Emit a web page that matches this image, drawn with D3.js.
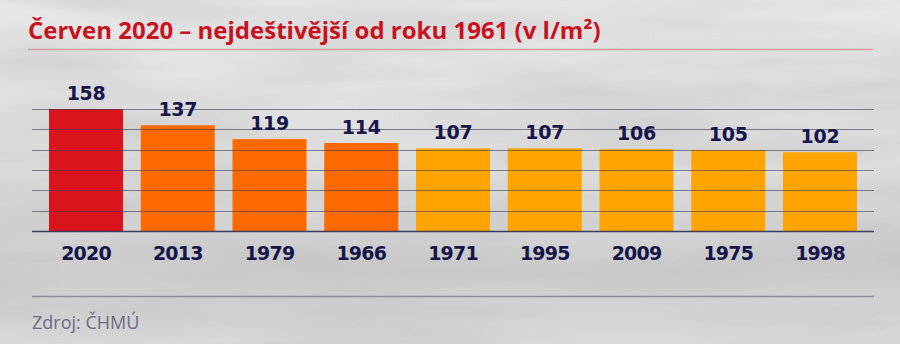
<!DOCTYPE html>
<html lang="cs">
<head>
<meta charset="UTF-8">
<title>Červen 2020</title>
<script src="https://d3js.org/d3.v7.min.js"></script>
<style>
  html, body { margin: 0; padding: 0; background: #dcdcdc; }
  svg { display: block; }
</style>
</head>
<body>
<div id="chart"></div>
<script>
// data
const years = ["2020", "2013", "1979", "1966", "1971", "1995", "2009", "1975", "1998"];
const values = [158, 137, 119, 114, 107, 107, 106, 105, 102];
const title = "Červen 2020 – nejdeštivější od roku 1961 (v l/m²)";
const source = "Zdroj: ČHMÚ";

const W = 900, H = 344;
const baseY = 231, topY = 109;

const svg = d3.select("#chart").append("svg")
    .attr("width", W)
    .attr("height", H);

// background - grey water-like texture
const defs = svg.append("defs");
const filt = defs.append("filter").attr("id", "water")
    .attr("x", 0).attr("y", 0).attr("width", "100%").attr("height", "100%");
filt.append("feTurbulence")
    .attr("type", "fractalNoise")
    .attr("baseFrequency", "0.004 0.025")
    .attr("numOctaves", 3)
    .attr("seed", 7);
filt.append("feColorMatrix")
    .attr("type", "matrix")
    .attr("values", "0 0 0 0 0.5  0 0 0 0 0.5  0 0 0 0 0.52  0 0 0 1.4 -0.45");
const grad = defs.append("linearGradient").attr("id", "bg")
    .attr("x1", 0).attr("y1", 0).attr("x2", 0).attr("y2", 1);
grad.append("stop").attr("offset", "0").attr("stop-color", "#e8e8e8");
grad.append("stop").attr("offset", "0.45").attr("stop-color", "#dedede");
grad.append("stop").attr("offset", "0.8").attr("stop-color", "#cdcdcd");
grad.append("stop").attr("offset", "1").attr("stop-color", "#dadada");

svg.append("rect").attr("width", W).attr("height", H).attr("fill", "url(#bg)");
svg.append("rect").attr("width", W).attr("height", H)
    .attr("filter", "url(#water)").attr("opacity", 0.6);

// title
svg.append("text")
    .attr("x", 28).attr("y", 39)
    .attr("font-family", "'Open Sans', sans-serif")
    .attr("font-weight", 700)
    .attr("font-size", 24)
    .attr("fill", "#c8121e")
    .text(title);

svg.append("line")
    .attr("x1", 28).attr("x2", 873).attr("y1", 49.5).attr("y2", 49.5)
    .attr("stroke", "#d79a9e").attr("stroke-width", 1.5);

// scales
const x = d3.scaleBand()
    .domain(years)
    .range([49, 857])
    .paddingInner(0.193)
    .paddingOuter(0);

const maxV = d3.max(values);
const y = d3.scaleLinear()
    .domain([0, maxV])
    .range([baseY, topY]);

const color = d3.scaleThreshold()
    .domain([110, 150])
    .range(["#ffa400", "#ff6a00", "#d9141c"]);

const data = years.map((yr, i) => ({ year: yr, value: values[i] }));

// bars
svg.append("g").selectAll("rect")
    .data(data)
    .join("rect")
    .attr("x", d => x(d.year))
    .attr("y", d => y(d.value))
    .attr("width", x.bandwidth())
    .attr("height", d => baseY - y(d.value))
    .attr("fill", d => color(d.value));

// grid lines drawn over the bars
const gridVals = d3.range(1, 7).map(i => maxV * i / 6);
svg.append("g").selectAll("line")
    .data(gridVals)
    .join("line")
    .attr("x1", 32).attr("x2", 874)
    .attr("y1", d => Math.round(y(d)) + 0.5)
    .attr("y2", d => Math.round(y(d)) + 0.5)
    .attr("stroke", "#3a3a58")
    .attr("stroke-opacity", 0.6)
    .attr("stroke-width", 1.2);

// baseline axis
const xAxis = svg.append("g")
    .attr("transform", `translate(0,${baseY})`)
    .call(d3.axisBottom(x).tickSize(0).tickPadding(16));
xAxis.select(".domain").remove();
xAxis.append("line")
    .attr("x1", 32).attr("x2", 874).attr("y1", 0.5).attr("y2", 0.5)
    .attr("stroke", "#3c3c5c").attr("stroke-width", 1.6);
xAxis.selectAll("text")
    .attr("font-family", "'DejaVu Sans', sans-serif")
    .attr("font-weight", 700)
    .attr("font-size", 19)
    .attr("letter-spacing", "-0.8px")
    .attr("fill", "#16164a");

// value labels
svg.append("g").selectAll("text")
    .data(data)
    .join("text")
    .attr("x", d => x(d.year) + x.bandwidth() / 2)
    .attr("y", d => y(d.value) - 9)
    .attr("text-anchor", "middle")
    .attr("font-family", "'DejaVu Sans', sans-serif")
    .attr("font-weight", 700)
    .attr("font-size", 19)
    .attr("letter-spacing", "-0.3px")
    .attr("fill", "#16164a")
    .text(d => d.value);

// source
svg.append("line")
    .attr("x1", 32).attr("x2", 874).attr("y1", 296.5).attr("y2", 296.5)
    .attr("stroke", "#8c8c9c").attr("stroke-width", 1.5);

svg.append("text")
    .attr("x", 32).attr("y", 329)
    .attr("font-family", "'Open Sans', sans-serif")
    .attr("font-size", 18)
    .attr("fill", "#6c6c84")
    .text(source);
</script>
</body>
</html>
